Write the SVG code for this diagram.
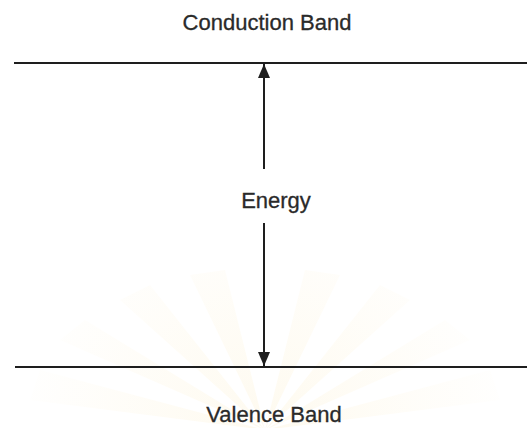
<svg xmlns="http://www.w3.org/2000/svg" width="527" height="428" viewBox="0 0 527 428">
<style>
.lbl{font-family:"Liberation Sans",Arial,sans-serif;font-size:22px;fill:#2a2a2a;text-anchor:middle;stroke:#2a2a2a;stroke-width:0.3}
.band{stroke:#1e1e1e;stroke-width:2.2;fill:none}
.conn{stroke:#1e1e1e;stroke-width:2;fill:none}
</style>
<defs>
<marker id="ah" viewBox="0 0 14 12" refX="14" refY="6" markerWidth="14" markerHeight="12" markerUnits="userSpaceOnUse" orient="auto">
<path d="M0,0 L14,6 L0,12 Z" fill="#1e1e1e"/>
</marker>
<radialGradient id="wm" cx="265" cy="430" r="260" gradientUnits="userSpaceOnUse">
<stop offset="0" stop-color="#fdf3d8" stop-opacity="0.8"/>
<stop offset="1" stop-color="#fdf3d8" stop-opacity="0"/>
</radialGradient>
</defs>
<rect width="527" height="428" fill="#ffffff"/>
<g id="watermark" opacity="0.5">
<path d="M265,430 L30,400 L40,370 Z M265,430 L60,340 L85,320 Z M265,430 L120,300 L150,285 Z M265,430 L190,275 L225,270 Z M265,430 L305,270 L340,275 Z M265,430 L380,285 L410,300 Z M265,430 L445,320 L470,340 Z M265,430 L490,370 L500,400 Z" fill="url(#wm)"/>
</g>
<g id="conduction">
<line class="band" x1="14" y1="63" x2="527" y2="63"/>
<text class="lbl" x="267" y="30">Conduction Band</text>
</g>
<g id="valence">
<line class="band" x1="15" y1="367" x2="527" y2="367"/>
<text class="lbl" x="274" y="422">Valence Band</text>
</g>
<g id="energy">
<text class="lbl" x="276" y="208">Energy</text>
</g>
<g id="connectors">
<line class="conn" x1="264" y1="169" x2="264" y2="64" marker-end="url(#ah)"/>
<line class="conn" x1="264" y1="223" x2="264" y2="366" marker-end="url(#ah)"/>
</g>
</svg>
